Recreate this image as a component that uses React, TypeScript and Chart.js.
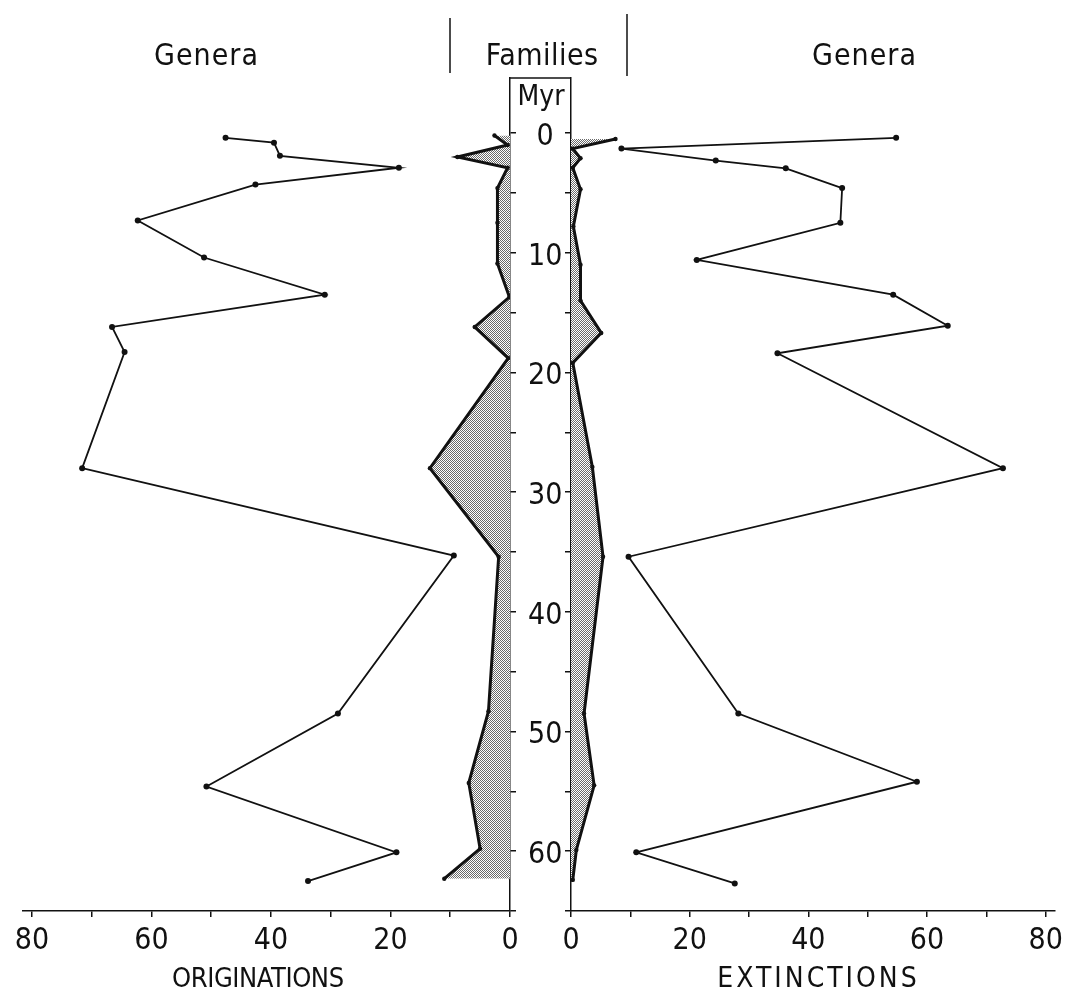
import React, { useEffect, useRef } from 'react';
import { Chart, registerables } from 'chart.js';

Chart.register(...registerables);

// ---- data (ages in Myr, counts of taxa) ----
const originGeneraAges = [0.4, 0.8, 1.9, 2.9, 4.3, 7.3, 10.4, 13.5, 16.2, 18.3, 28.0, 35.3, 48.5, 54.6, 60.1, 62.5];
const originGenera = [47.6, 39.5, 38.5, 18.6, 42.6, 62.3, 51.2, 31.0, 66.6, 64.5, 71.6, 9.4, 28.8, 50.8, 19.0, 33.8];
const originFamilyAges = [0.2, 1.0, 2.0, 2.9, 4.6, 7.5, 10.9, 13.7, 16.2, 18.8, 28.0, 35.4, 48.3, 54.3, 59.8, 62.3];
const originFamilies = [2.6, 0.4, 8.8, 0.4, 2.1, 2.1, 2.1, 0.1, 5.9, 0.3, 13.4, 1.9, 3.6, 6.9, 5.0, 11.0];
const extinctGeneraAges = [0.4, 1.3, 2.3, 2.95, 4.6, 7.5, 10.6, 13.5, 16.1, 18.4, 28.0, 35.4, 48.5, 54.2, 60.1, 62.7];
const extinctGenera = [54.8, 8.5, 24.4, 36.2, 45.7, 45.4, 21.2, 54.3, 63.5, 34.8, 72.8, 9.7, 28.2, 58.3, 11.0, 27.6];
const extinctFamilyAges = [0.5, 1.3, 2.1, 2.9, 4.7, 7.8, 11.0, 14.0, 16.7, 19.2, 27.9, 35.4, 48.5, 54.5, 59.9, 62.4];
const extinctFamilies = [7.5, 0.3, 1.6, 0.3, 1.6, 0.4, 1.6, 1.6, 5.1, 0.3, 3.6, 5.4, 2.2, 3.9, 0.9, 0.3];

const countTicks = [0, 10, 20, 30, 40, 50, 60, 70, 80];
const ageTicks = [0, 5, 10, 15, 20, 25, 30, 35, 40, 45, 50, 55, 60, 65];

const FONT = "'Liberation Sans Narrow', 'DejaVu Sans Condensed', 'Liberation Sans', sans-serif";
const INK = '#111111';

function makePattern(ctx: CanvasRenderingContext2D) {
  const c = document.createElement('canvas');
  c.width = 2;
  c.height = 2;
  const g = c.getContext('2d')!;
  g.fillStyle = '#ffffff';
  g.fillRect(0, 0, 2, 2);
  g.fillStyle = '#6a6a6a';
  g.fillRect(0, 0, 1, 1);
  g.fillRect(1, 1, 1, 1);
  return ctx.createPattern(c, 'repeat');
}

function toPoints(ages: number[], vals: number[]) {
  return ages.map((a, i) => ({ x: vals[i], y: a }));
}

function textAt(ctx: CanvasRenderingContext2D, s: string, x: number, y: number, size: number, spacing: number, baseline: CanvasTextBaseline = 'alphabetic') {
  ctx.save();
  ctx.font = `${size}px ${FONT}`;
  (ctx as any).letterSpacing = `${spacing}px`;
  ctx.fillStyle = INK;
  ctx.textAlign = 'center';
  ctx.textBaseline = baseline;
  ctx.fillText(s, x + spacing / 2, y);
  ctx.restore();
}

function vline(ctx: CanvasRenderingContext2D, x: number, y1: number, y2: number) {
  ctx.save();
  ctx.strokeStyle = INK;
  ctx.lineWidth = 1.5;
  ctx.beginPath();
  ctx.moveTo(x, y1);
  ctx.lineTo(x, y2);
  ctx.stroke();
  ctx.restore();
}

function buildOptions(side: 'left' | 'right') {
  const isLeft = side === 'left';
  return {
    animation: false as const,
    responsive: false,
    devicePixelRatio: 1,
    indexAxis: 'y' as const,
    layout: { padding: isLeft ? { left: 23, right: 69, top: 78, bottom: 0 } : { left: 0, right: 10, top: 78, bottom: 0 } },
    plugins: { legend: { display: false }, tooltip: { enabled: false }, title: { display: false } },
    scales: {
      x: {
        type: 'linear' as const,
        min: 0,
        max: isLeft ? 81.5 : 81.6,
        reverse: isLeft,
        position: 'bottom' as const,
        afterBuildTicks: (s: any) => { s.ticks = countTicks.map((v) => ({ value: v })); },
        afterFit: (s: any) => { s.height = 83; },
        ticks: {
          callback: (v: any) => (Number(v) % 20 === 0 ? String(v) : ''),
          font: { family: FONT, size: 30 },
          color: INK,
          padding: 6,
          maxRotation: 0,
          autoSkip: false,
        },
        grid: { drawOnChartArea: false, drawTicks: true, tickLength: 6, color: INK, lineWidth: 1.5 },
        border: { display: true, color: INK, width: 1.5 },
      },
      y: {
        type: 'linear' as const,
        min: -4.6,
        max: 65,
        reverse: true,
        position: isLeft ? ('right' as const) : ('left' as const),
        afterBuildTicks: (s: any) => { s.ticks = ageTicks.map((v) => ({ value: v })); },
        afterFit: (s: any) => { s.width = isLeft ? 61 : 30; },
        ticks: {
          callback: (v: any) => (isLeft && Number(v) % 10 === 0 && Number(v) <= 60 ? String(v) : ''),
          font: { family: FONT, size: 30 },
          color: INK,
          crossAlign: 'center' as const,
          padding: 12,
          labelOffset: 4,
          autoSkip: false,
        },
        grid: { drawOnChartArea: false, drawTicks: true, tickLength: 6, color: INK, lineWidth: 1.5 },
        border: { display: true, color: INK, width: 1.5 },
      },
    },
  };
}

const leftDecor = {
  id: 'leftDecor',
  afterDraw(chart: any) {
    const ctx = chart.ctx as CanvasRenderingContext2D;
    const { top, right } = chart.chartArea;
    ctx.save();
    ctx.strokeStyle = INK;
    ctx.lineWidth = 1.5;
    ctx.beginPath();
    ctx.moveTo(right, top);
    ctx.lineTo(right + 61, top);
    ctx.stroke();
    ctx.restore();
    textAt(ctx, 'Myr', right + 31, 105, 28, 0);
    textAt(ctx, 'Genera', 206, 65, 30, 1);
    textAt(ctx, 'Families', 542, 65, 30, 0.5);
    vline(ctx, 450, 18, 73);
    vline(ctx, 627, 14, 76);
    textAt(ctx, 'ORIGINATIONS', 258, 980, 27, -0.4, 'middle');
  },
};

const rightDecor = {
  id: 'rightDecor',
  afterDraw(chart: any) {
    const ctx = chart.ctx as CanvasRenderingContext2D;
    textAt(ctx, 'Genera', 864 - 541, 65, 30, 1);
    textAt(ctx, 'EXTINCTIONS', 817 - 541, 980, 28, 3, 'middle');
  },
};

function makeConfig(side: 'left' | 'right', ctx: CanvasRenderingContext2D): any {
  const isLeft = side === 'left';
  const pattern = makePattern(ctx);
  const genera = isLeft ? toPoints(originGeneraAges, originGenera) : toPoints(extinctGeneraAges, extinctGenera);
  const families = isLeft ? toPoints(originFamilyAges, originFamilies) : toPoints(extinctFamilyAges, extinctFamilies);
  return {
    type: 'line',
    data: {
      datasets: [
        {
          label: 'Families',
          data: families,
          borderColor: INK,
          borderWidth: 3,
          backgroundColor: pattern,
          fill: 'origin',
          pointRadius: 2.2,
          pointBackgroundColor: INK,
          pointBorderWidth: 0,
          tension: 0,
        },
        {
          label: 'Genera',
          data: genera,
          borderColor: INK,
          borderWidth: 1.8,
          fill: false,
          pointRadius: 3,
          pointBackgroundColor: INK,
          pointBorderWidth: 0,
          tension: 0,
        },
      ],
    },
    options: buildOptions(side),
    plugins: [isLeft ? leftDecor : rightDecor],
  };
}

export default function App() {
  const leftRef = useRef<HTMLCanvasElement | null>(null);
  const rightRef = useRef<HTMLCanvasElement | null>(null);

  useEffect(() => {
    const lc = leftRef.current!;
    const rc = rightRef.current!;
    const left = new Chart(lc, makeConfig('left', lc.getContext('2d')!));
    const right = new Chart(rc, makeConfig('right', rc.getContext('2d')!));
    return () => {
      left.destroy();
      right.destroy();
    };
  }, []);

  return (
    <div style={{ position: 'absolute', left: 0, top: 0, width: 1069, height: 994, background: '#ffffff' }}>
      <canvas ref={leftRef} width={640} height={994} style={{ position: 'absolute', left: 0, top: 0, width: 640, height: 994 }} />
      <canvas ref={rightRef} width={528} height={994} style={{ position: 'absolute', left: 541, top: 0, width: 528, height: 994 }} />
    </div>
  );
}
